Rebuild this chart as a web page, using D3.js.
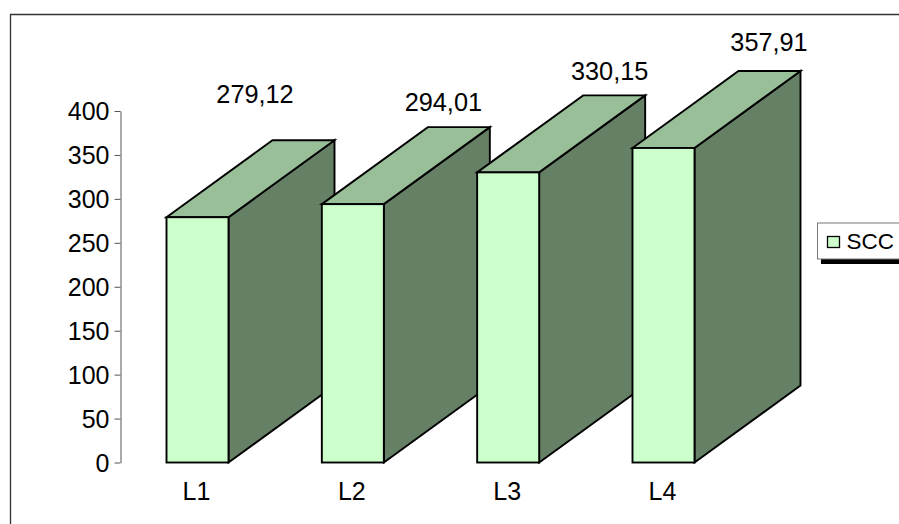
<!DOCTYPE html>
<html><head><meta charset="utf-8">
<script src="https://cdn.jsdelivr.net/npm/d3@7"></script>
<style>html,body{margin:0;padding:0;background:#fff}svg{display:block}text{font-family:"Liberation Sans",Arial,sans-serif;fill:#000}</style>
</head><body><svg id="c" width="899" height="524"></svg>
<script>
const categories = ["L1","L2","L3","L4"];
const seriesName = "SCC";
const values = [279.12,294.01,330.15,357.91];
const valueLabels = ["279,12","294,01","330,15","357,91"];
const yTicks = [0,50,100,150,200,250,300,350,400];
const labelDx = [58,91,102,106];
const labelDy = [-37,-16,-15,-20];

const svg = d3.select("#c");
svg.append("path").attr("d","M899.5,14.5H10.5V524").attr("fill","none").attr("stroke","#333").attr("stroke-width",1.3);

const y = d3.scaleLinear().domain([0,400]).range([462.5,111]);
const x = d3.scalePoint().domain(categories).range([197.5,663.5]);
const barW=62, depX=106, depY=-77;
const FRONT="#ccffcc",TOP="#99bf99",SIDE="#668066";

const ax = svg.append("g").attr("transform","translate(120.5,0)").call(d3.axisLeft(y).tickValues(yTicks).tickSize(6).tickPadding(5).tickSizeOuter(0).tickFormat(d3.format("d")));
ax.selectAll("line,path").attr("stroke","#555").attr("stroke-width",1);
ax.selectAll("text").attr("font-size",25).attr("dy","0.35em");

const bars = svg.selectAll("g.bar").data(values).join("g").attr("class","bar")
  .attr("fill","none").attr("stroke","#000").attr("stroke-width",1.9).attr("stroke-linejoin","miter");
const xl=(d,i)=>x(categories[i])-barW/2, xr=(d,i)=>x(categories[i])+barW/2;
bars.append("path").attr("fill",SIDE).attr("d",(d,i)=>d3.line()([[xr(d,i),y(0)],[xr(d,i)+depX,y(0)+depY],[xr(d,i)+depX,y(d)+depY],[xr(d,i),y(d)]])+"Z");
bars.append("path").attr("fill",TOP).attr("d",(d,i)=>d3.line()([[xl(d,i),y(d)],[xl(d,i)+depX,y(d)+depY],[xr(d,i)+depX,y(d)+depY],[xr(d,i),y(d)]])+"Z");
bars.append("rect").attr("fill",FRONT).attr("x",xl).attr("y",d=>y(d)).attr("width",barW).attr("height",d=>y(0)-y(d));

svg.selectAll("text.val").data(values).join("text").attr("class","val")
  .attr("x",(d,i)=>x(categories[i])+labelDx[i]-0.5).attr("y",(d,i)=>y(d)+depY+labelDy[i])
  .attr("text-anchor","middle").attr("font-size",25.3).text((d,i)=>valueLabels[i]);
svg.selectAll("text.cat").data(categories).join("text").attr("class","cat")
  .attr("x",d=>x(d)-1).attr("y",499.5).attr("text-anchor","middle").attr("font-size",25).text(d=>d);

const lg = svg.append("g");
lg.append("rect").attr("x",821).attr("y",259).attr("width",78).attr("height",5).attr("fill","#000");
lg.append("rect").attr("x",817.5).attr("y",223).attr("width",90).attr("height",36).attr("fill","#fff").attr("stroke","#777").attr("stroke-width",1);
lg.append("rect").attr("x",827.5).attr("y",236.5).attr("width",12).attr("height",11).attr("fill",FRONT).attr("stroke","#000").attr("stroke-width",1.3);
lg.append("text").attr("x",846.5).attr("y",248.5).attr("font-size",22.5).text(seriesName);
</script></body></html>
